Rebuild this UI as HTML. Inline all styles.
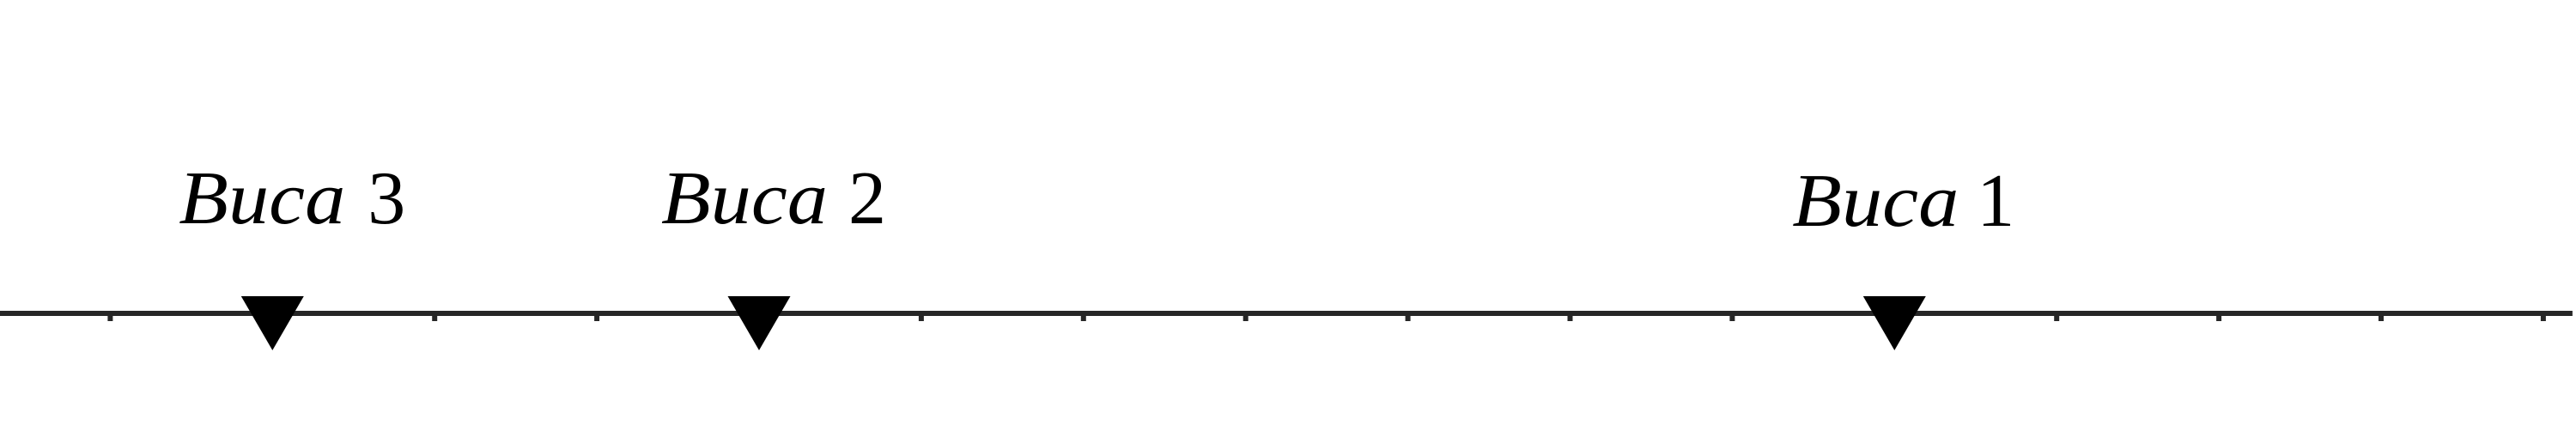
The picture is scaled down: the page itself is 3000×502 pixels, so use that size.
<!DOCTYPE html>
<html lang="it">
<head>
<meta charset="utf-8">
<title>Buca positions</title>
<style>
html, body { margin: 0; padding: 0; background: #ffffff; }
body { width: 3000px; height: 502px; overflow: hidden; }
svg { display: block; }
text { font-family: "Liberation Serif", serif; font-size: 88px; fill: #000000; }
.name { font-style: italic; }
</style>
</head>
<body>
<svg id="chart" width="3000" height="502" viewBox="0 0 3000 502" xmlns="http://www.w3.org/2000/svg">
  <rect x="0" y="0" width="3000" height="502" fill="#ffffff"></rect>
  <g id="axis"></g>
  <g id="marks"></g>
</svg>
<script>
const tickValues = [0, 1, 2, 3, 4, 5, 6, 7, 8, 9, 10, 11, 12, 13, 14, 15];
const bucaNames = ["Buca", "Buca", "Buca"];
const bucaNumbers = ["1", "2", "3"];
const bucaValues = [11, 4, 1];
const axisDomain = [-0.68, 15.18];

const NS = "http://www.w3.org/2000/svg";
const AXIS_Y = 365;
const LINE_WIDTH = 6;
const TICK_END = 374;
const MARKER_TOP = 345;
const MARKER_TIP = 408;
const MARKER_HALF = 36.5;
const NAME_WIDTH = 194;

// Per-label layout, keyed by the printed number: offsets from the marker's x.
const labelLayout = {
  "1": { dx: -119, digitDx: 96, baseline: 263 },
  "2": { dx: -114, digitDx: 104, baseline: 260 },
  "3": { dx: -109, digitDx: 111, baseline: 260 }
};

function xScale(v) {
  return 128.4 + 188.9 * v;
}

const axis = document.getElementById("axis");
const marks = document.getElementById("marks");

function svgEl(tag, attrs) {
  const el = document.createElementNS(NS, tag);
  for (const k in attrs) el.setAttribute(k, attrs[k]);
  return el;
}

const axisLine = svgEl("line", {
  x1: xScale(axisDomain[0]), x2: xScale(axisDomain[1]),
  y1: AXIS_Y, y2: AXIS_Y,
  stroke: "#262626", "stroke-width": LINE_WIDTH
});


axis.appendChild(axisLine);

tickValues.forEach(function (v) {
  const tick = svgEl("line", {
    x1: xScale(v), x2: xScale(v),
    y1: AXIS_Y, y2: TICK_END,
    stroke: "#262626", "stroke-width": LINE_WIDTH
  });
  
  
  axis.appendChild(tick);
});

bucaValues.forEach(function (v, i) {
  const cx = xScale(v);
  const number = bucaNumbers[i];
  const layout = labelLayout[number];

  const marker = svgEl("polygon", {
    points: (cx - MARKER_HALF) + "," + MARKER_TOP + " " +
            (cx + MARKER_HALF) + "," + MARKER_TOP + " " +
            cx + "," + MARKER_TIP,
    fill: "#000000"
  });
  
  
  marks.appendChild(marker);

  const label = svgEl("text", { y: layout.baseline });
  
  

  const nameSpan = svgEl("tspan", {
    x: cx + layout.dx,
    textLength: NAME_WIDTH,
    lengthAdjust: "spacingAndGlyphs",
    class: "name"
  });
  nameSpan.textContent = bucaNames[i];
  label.appendChild(nameSpan);

  const digitSpan = svgEl("tspan", { x: cx + layout.digitDx });
  digitSpan.textContent = number;
  label.appendChild(digitSpan);

  marks.appendChild(label);
});
</script>
</body>
</html>
